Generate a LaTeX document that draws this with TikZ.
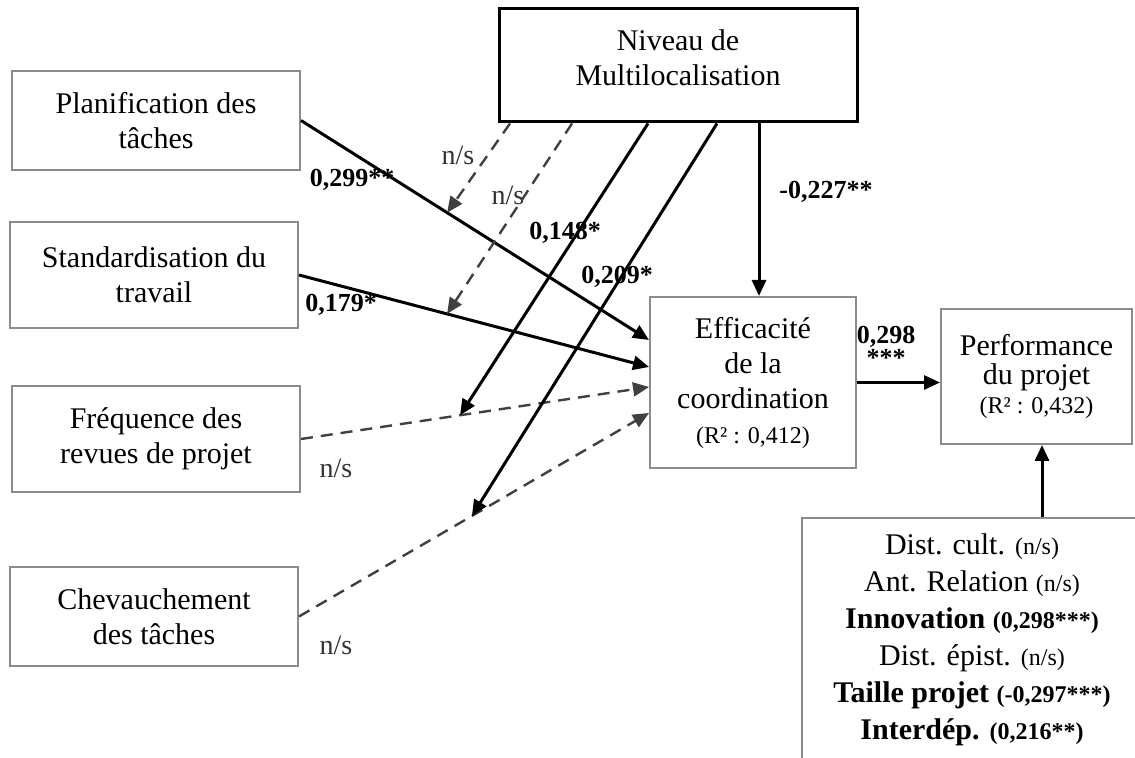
\documentclass[tikz,border=0pt]{standalone}
\usepackage{fontspec}
\setmainfont{Liberation Serif}
\usetikzlibrary{arrows.meta,calc}

\begin{document}
\begin{tikzpicture}[x=0.5pt,y=-0.5pt,
  box/.style={draw=gray!90,line width=1pt,align=center,inner sep=0pt,
    font=\fontsize{15}{17.5}\selectfont},
  effect/.style={line width=1.5pt,-{Triangle[length=8pt,width=7pt]}},
  nseffect/.style={draw=black!75,line width=1.2pt,dash pattern=on 6pt off 4pt,
    -{Triangle[length=8pt,width=7pt]}},
  coef/.style={font=\bfseries\fontsize{13}{11.5}\selectfont},
  ns/.style={text=black!80,font=\fontsize{14}{16}\selectfont}]
  \newcommand{\smallns}{%
    {\fontsize{12}{14}\selectfont(n/s)}%
  }
  \newcommand{\smallcoef}[1]{%
    {\bfseries\fontsize{12}{14}\selectfont(#1)}%
  }
  \newcommand{\rsquare}[1]{%
    {\fontsize{12}{14}\selectfont(R² : #1)}%
  }

  \useasboundingbox (0,0) rectangle (1135,758);
  \clip (0,0) rectangle (1135,758);

  % boxes
  \node[box,minimum width=144pt,minimum height=49.5pt] (plan) at (156,120.5) {Planification des\\tâches};
  \node[box,minimum width=144pt,minimum height=53pt] (std) at (154,275) {Standardisation du\\travail};
  \node[box,minimum width=144pt,minimum height=53pt] (freq) at (156,439) {Fréquence des\\revues de projet};
  \node[box,minimum width=144pt,minimum height=49.5pt] (chev) at (154,616.5) {Chevauchement\\des tâches};
  \node[box,draw=black,line width=1.5pt,minimum width=179pt,minimum height=56.5pt,text depth=8pt] (niv) at (678,65.5) {Niveau de\\Multilocalisation};
  \node[box,minimum width=103pt,minimum height=85.5pt] (eff) at (753,382.5) {Efficacité\\de la\\coordination\\\rsquare{0,412}};
  \node[box,minimum width=95.5pt,minimum height=67.5pt,font=\fontsize{15}{14.5}\selectfont] (perf) at (1036.5,376.5) {Performance\\du projet\\\rsquare{0,432}};
  \node[box,minimum width=170pt,minimum height=121.5pt,font=\fontsize{15}{18.5}\selectfont] (ctrl) at (972,639.5)
    {Dist. cult. \smallns\\Ant. Relation \smallns\\\textbf{Innovation} \smallcoef{0,298***}\\Dist. épist. \smallns\\\textbf{Taille projet} \smallcoef{-0,297***}\\\textbf{Interdép.} \smallcoef{0,216**}};

  % coefficients
  \node[coef] (cplan) at (352,180) {0,299**};
  \node[coef] (cstd) at (341,305) {0,179*};
  \node[ns] (nsplan) at (458,155) {n/s};
  \node[ns] (nsstd) at (508,195) {n/s};
  \node[coef] (cfreq) at (565,233) {0,148*};
  \node[coef] (cchev) at (617,277) {0,209*};
  \node[coef] (cniv) at (826,192) {-0,227**};
  \node[coef,align=center] (ceff) at (886,346) {0,298\\***};
  \node[ns] (nsfreq) at (336,468) {n/s};
  \node[ns] (nschev) at (336,645) {n/s};

  % direct effects
  \draw[effect] (plan.east) -- coordinate[pos=0.42] (mplan) ($(eff.west)+(0,-42.5)$);
  \draw[effect] (std.east) -- coordinate[pos=0.423] (mstd) ($(eff.west)+(0,-15.5)$);
  \draw[nseffect] (freq.east) -- coordinate[pos=0.457] (mfreq) ($(eff.west)+(0,4.5)$);
  \draw[nseffect] (chev.east) -- coordinate[pos=0.494] (mchev) ($(eff.west)+(0,30.5)$);

  % moderation
  \draw[nseffect] ($(niv.south)+(-168,0)$) -- (mplan);
  \draw[nseffect] ($(niv.south)+(-106,0)$) -- (mstd);
  \draw[effect] ($(niv.south)+(-30,0)$) -- (mfreq);
  \draw[effect] ($(niv.south)+(39,0)$) -- (mchev);
  \draw[effect] ($(niv.south)+(81,0)$) -- ($(eff.north)+(6,0)$);

  \draw[effect] (eff.east) -- (eff.east -| perf.west);
  \coordinate (ctrlout) at ($(ctrl.north)+(70,0)$);
  \draw[effect] (ctrlout) -- (ctrlout |- perf.south);
\end{tikzpicture}
\end{document}
